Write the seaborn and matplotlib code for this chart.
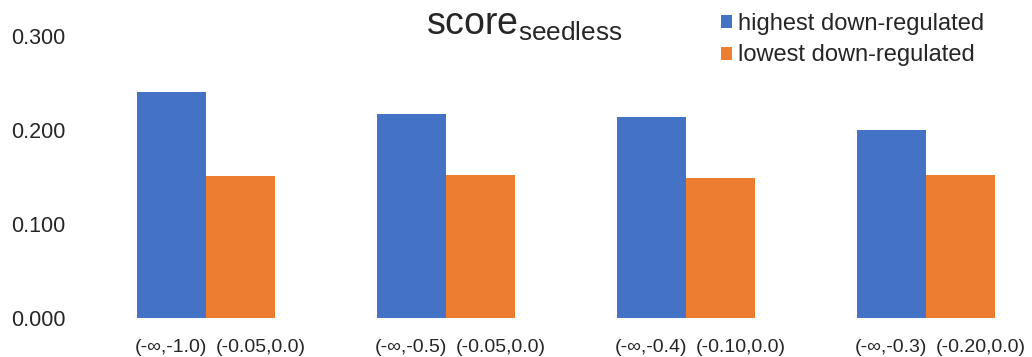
import matplotlib
matplotlib.use("Agg")
import matplotlib.pyplot as plt
import matplotlib.transforms as mtransforms
import seaborn as sns
import pandas as pd
from matplotlib.patches import Patch

# data
groups = ["g1", "g2", "g3", "g4"]
series = ["highest down-regulated", "lowest down-regulated"]
highest = [0.240, 0.217, 0.214, 0.200]
lowest = [0.151, 0.152, 0.149, 0.152]
highest_labels = ["(-\u221e,-1.0)", "(-\u221e,-0.5)", "(-\u221e,-0.4)", "(-\u221e,-0.3)"]
lowest_labels = ["(-0.05,0.0)", "(-0.05,0.0)", "(-0.10,0.0)", "(-0.20,0.0)"]
yticks = [0.0, 0.1, 0.2, 0.3]

colors = ["#4472C4", "#ED7D31"]

df = pd.DataFrame({
    "group": groups * 2,
    "series": [series[0]] * 4 + [series[1]] * 4,
    "value": highest + lowest,
})

sns.set_style("white")
plt.rcParams["font.family"] = ["Liberation Sans", "DejaVu Sans"]

fig = plt.figure(figsize=(10.32, 3.57), dpi=100)
ax = fig.add_axes([86 / 1032, 39 / 357, 1 - 86 / 1032, 282 / 357])

sns.barplot(data=df, x="group", y="value", hue="series", palette=colors,
            width=0.575, dodge=True, ax=ax, legend=False, saturation=1,
            linewidth=0)

ax.set_xlim(-0.5, -0.5 + (1032 - 86) / 240)
ax.set_ylim(0, 0.3)
ax.set_yticks(yticks)
ax.set_yticklabels([f"{v:.3f}" for v in yticks], fontsize=15.5)
ax.tick_params(axis="y", length=0, pad=15)

# one label under each bar, at the centre of each bar patch
bars = [p for p in ax.patches if p.get_height() > 0]
centers = sorted(p.get_x() + p.get_width() / 2 for p in bars)
labels = []
for h, l in zip(highest_labels, lowest_labels):
    labels += [h, l]
ax.set_xticks(centers)
ax.set_xticklabels(labels, fontsize=14)
ax.tick_params(axis="x", length=0, pad=15)
# the second label of each pair sits a little to the right of its bar
shift = mtransforms.ScaledTranslation(20 / 100, 0, fig.dpi_scale_trans)
for i, t in enumerate(ax.get_xticklabels()):
    if i % 2 == 1:
        t.set_transform(t.get_transform() + shift)
    else:
        t.set_transform(t.get_transform() + mtransforms.ScaledTranslation(-1 / 100, 0, fig.dpi_scale_trans))
ax.set_xlabel("")
ax.set_ylabel("")
sns.despine(ax=ax, left=True, bottom=True, top=True, right=True)

fig.text(524 / 1032, 1 - 35 / 357, r"$\mathregular{score_{seedless}}$",
         ha="center", va="baseline", fontsize=27)

handles = [Patch(facecolor=c, edgecolor="none") for c in colors]
fig.legend(handles, series, loc="upper left", bbox_to_anchor=(721 / 1032, 1 - 13 / 357),
           frameon=False, fontsize=17, handlelength=0.47, handleheight=0.47,
           handletextpad=0.25, labelspacing=0.4, borderaxespad=0, borderpad=0)

fig.savefig("out.png", dpi=100)
